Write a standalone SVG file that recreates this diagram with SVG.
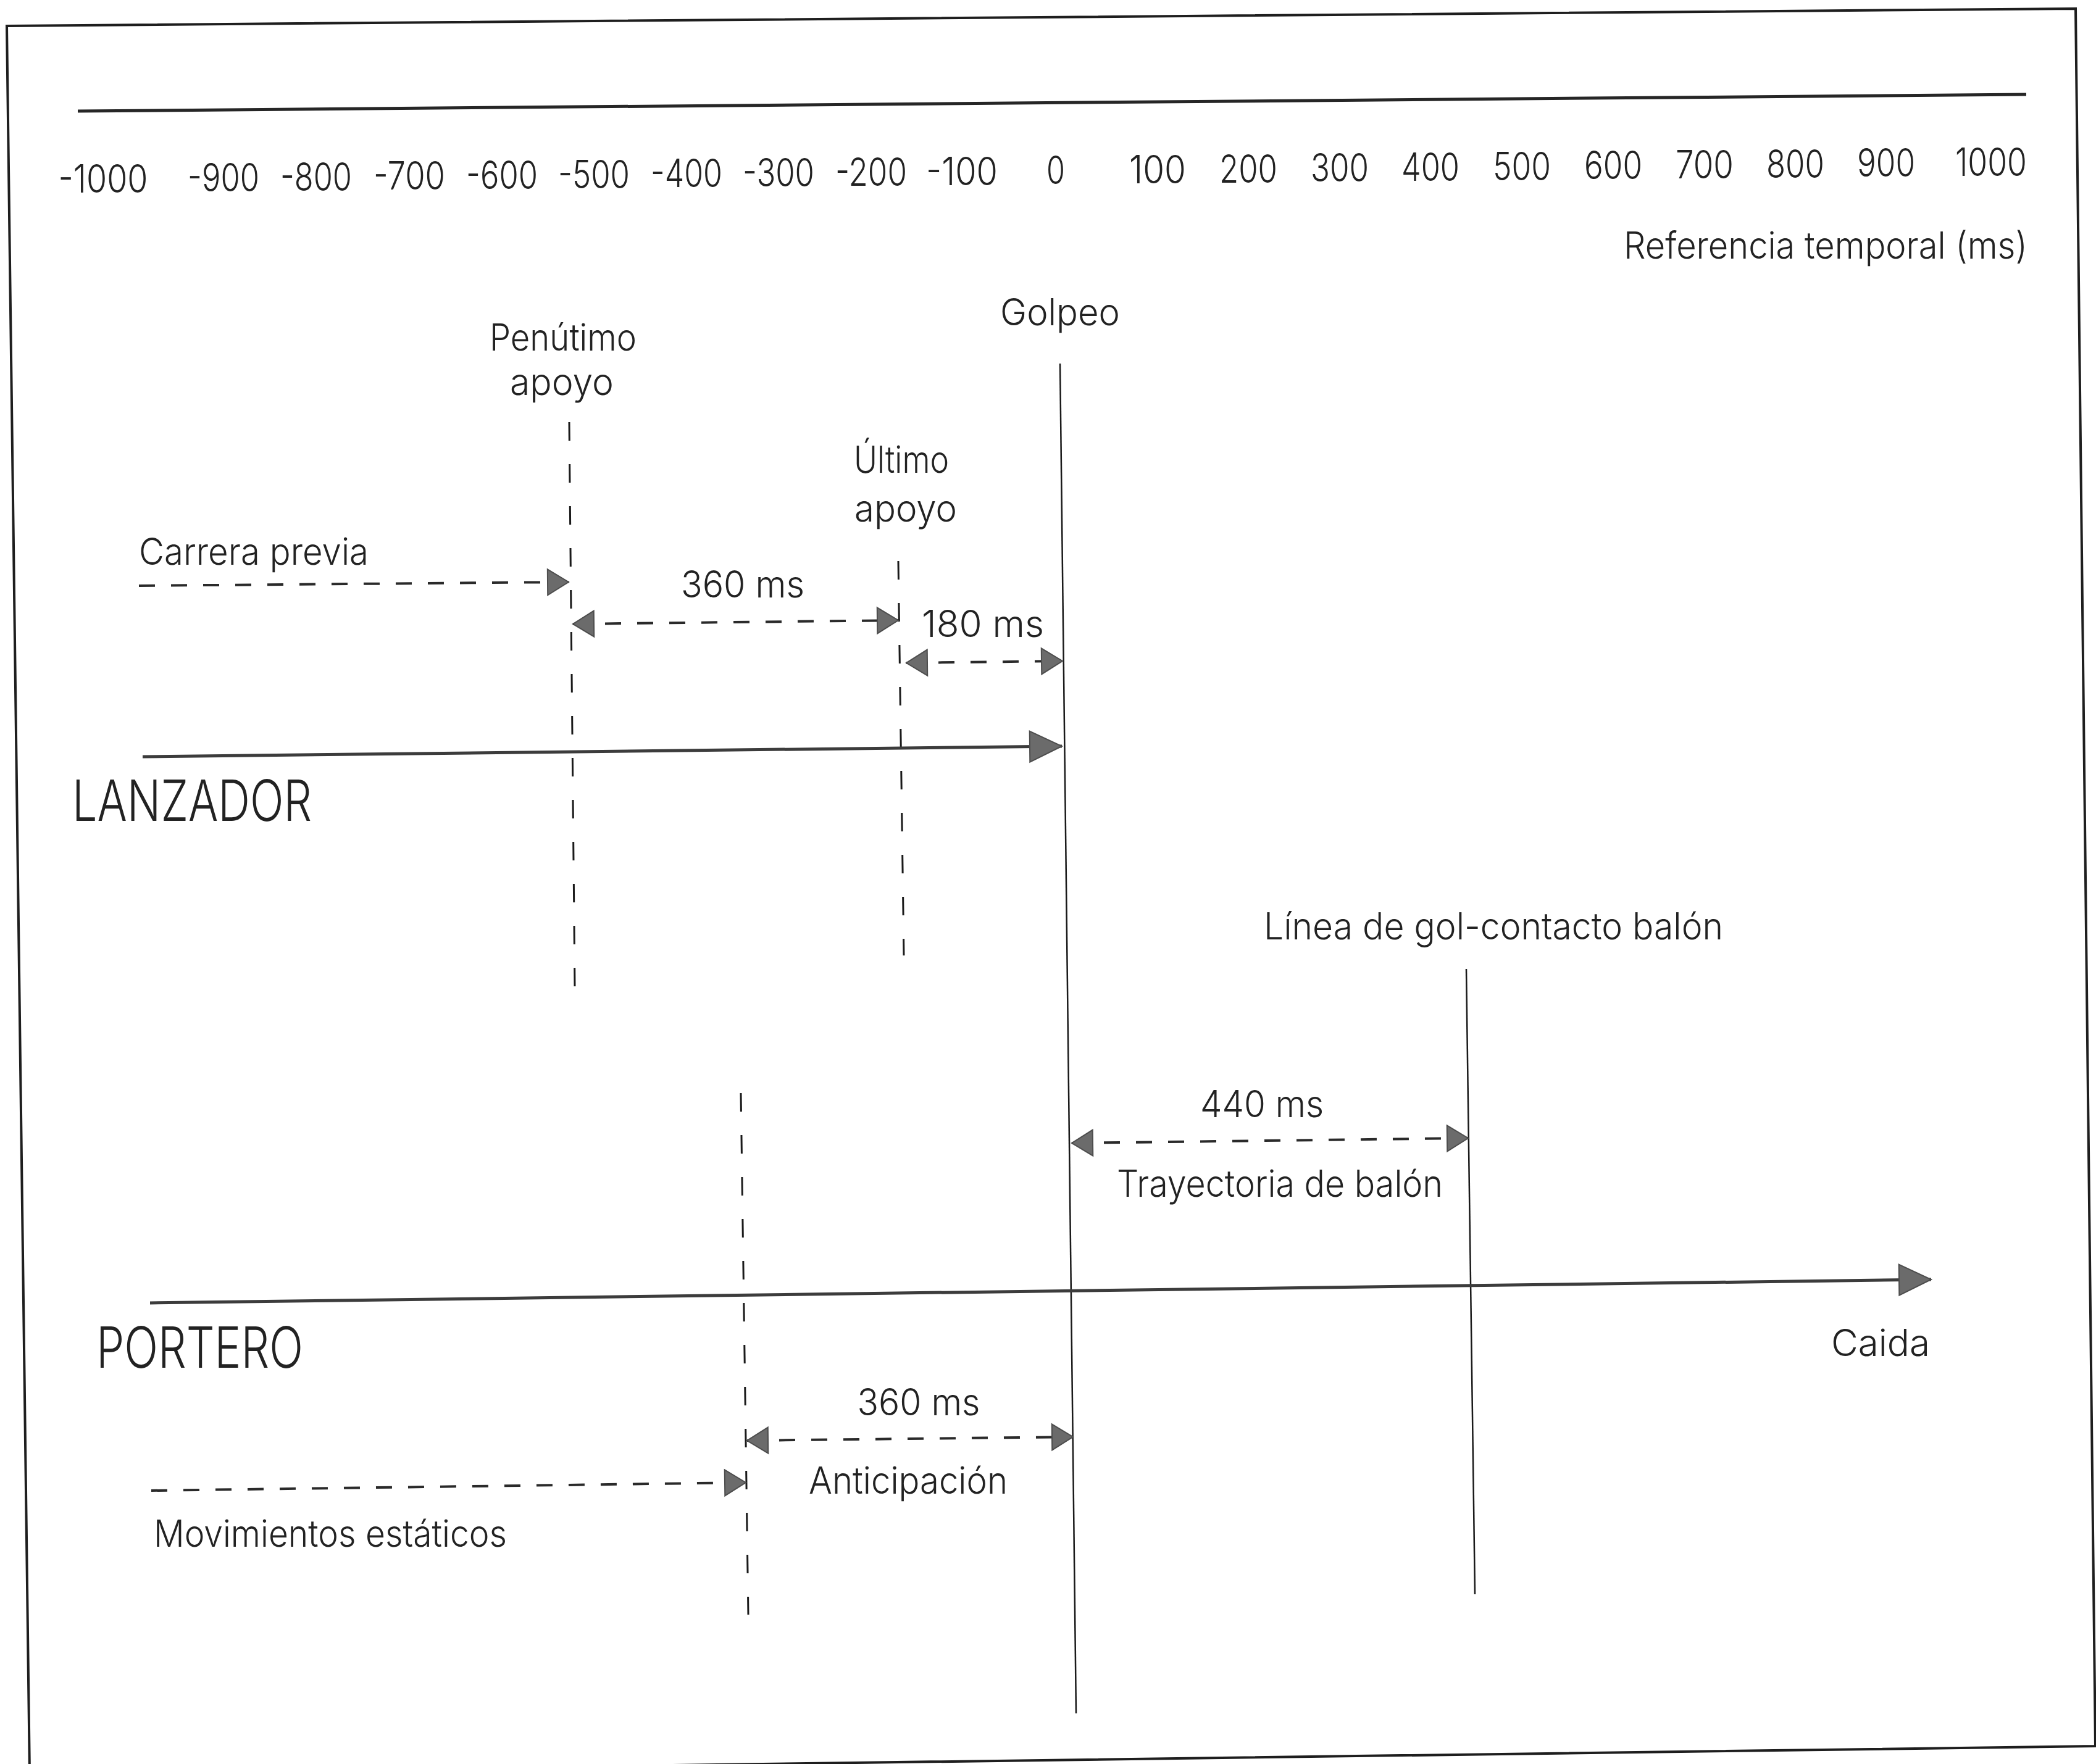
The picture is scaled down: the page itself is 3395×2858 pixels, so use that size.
<svg xmlns="http://www.w3.org/2000/svg" width="3395" height="2858" viewBox="0 0 3395 2858">
  <style>
    .frame { fill: none; stroke: #1e1e1e; stroke-width: 4; }
    .axis { stroke: #262626; stroke-width: 5; fill: none; }
    .track { stroke: #3c3c3c; stroke-width: 5; fill: none; }
    .event { stroke: #1a1a1a; stroke-width: 2.5; fill: none; }
    .phase { stroke: #1a1a1a; stroke-width: 3; stroke-dasharray: 30 38; fill: none; }
    .span { stroke: #2a2a2a; stroke-width: 4; stroke-dasharray: 26 26; fill: none; }
    .head { fill: #6b6b6b; stroke: #4d4d4d; stroke-width: 2; }
    text { font-family: Inter, "Liberation Sans", "DejaVu Sans", sans-serif; font-weight: 300; fill: #222; }
    .lbl { font-size: 60px; }
    .num { font-size: 63px; text-anchor: middle; }
    .mid { text-anchor: middle; }
    .actor { font-size: 92px; }
  </style>
  <defs>
    <marker id="tipS" viewBox="0 0 36 44" refX="35" refY="22" markerWidth="36" markerHeight="44" markerUnits="userSpaceOnUse" orient="auto-start-reverse" overflow="visible">
      <path class="head" d="M1,1 L35,22 L1,43 Z"/>
    </marker>
    <marker id="tipL" viewBox="0 0 54 52" refX="53" refY="26" markerWidth="54" markerHeight="52" markerUnits="userSpaceOnUse" orient="auto" overflow="visible">
      <path class="head" d="M1,1 L53,26 L1,51 Z"/>
    </marker>
  </defs>

  <rect width="3395" height="2858" fill="#ffffff"/>

  <!-- page frame -->
  <polygon class="frame" points="11,42 3362,14 3394,2829 48,2874"/>

  <!-- time axis with millisecond scale -->
  <g id="time-axis">
    <line class="axis" x1="126" y1="180" x2="3282" y2="153"/>
    <text class="num" x="167" y="312" textLength="145" lengthAdjust="spacingAndGlyphs">-1000</text>
    <text class="num" x="362" y="310" textLength="116" lengthAdjust="spacingAndGlyphs">-900</text>
    <text class="num" x="512" y="309" textLength="116" lengthAdjust="spacingAndGlyphs">-800</text>
    <text class="num" x="663" y="307" textLength="116" lengthAdjust="spacingAndGlyphs">-700</text>
    <text class="num" x="813" y="306" textLength="116" lengthAdjust="spacingAndGlyphs">-600</text>
    <text class="num" x="962" y="305" textLength="116" lengthAdjust="spacingAndGlyphs">-500</text>
    <text class="num" x="1112" y="303" textLength="116" lengthAdjust="spacingAndGlyphs">-400</text>
    <text class="num" x="1261" y="302" textLength="116" lengthAdjust="spacingAndGlyphs">-300</text>
    <text class="num" x="1411" y="301" textLength="116" lengthAdjust="spacingAndGlyphs">-200</text>
    <text class="num" x="1558" y="300" textLength="116" lengthAdjust="spacingAndGlyphs">-100</text>
    <text class="num" x="1710" y="298" textLength="30" lengthAdjust="spacingAndGlyphs">0</text>
    <text class="num" x="1875" y="297" textLength="92" lengthAdjust="spacingAndGlyphs">100</text>
    <text class="num" x="2022" y="296" textLength="94" lengthAdjust="spacingAndGlyphs">200</text>
    <text class="num" x="2170" y="294" textLength="94" lengthAdjust="spacingAndGlyphs">300</text>
    <text class="num" x="2317" y="293" textLength="94" lengthAdjust="spacingAndGlyphs">400</text>
    <text class="num" x="2465" y="292" textLength="94" lengthAdjust="spacingAndGlyphs">500</text>
    <text class="num" x="2613" y="290" textLength="94" lengthAdjust="spacingAndGlyphs">600</text>
    <text class="num" x="2761" y="289" textLength="94" lengthAdjust="spacingAndGlyphs">700</text>
    <text class="num" x="2908" y="288" textLength="94" lengthAdjust="spacingAndGlyphs">800</text>
    <text class="num" x="3055" y="286" textLength="94" lengthAdjust="spacingAndGlyphs">900</text>
    <text class="num" x="3225" y="285" textLength="116" lengthAdjust="spacingAndGlyphs">1000</text>
    <text class="lbl" x="2630" y="419" textLength="654" lengthAdjust="spacingAndGlyphs">Referencia temporal (ms)</text>
  </g>

  <!-- key instants -->
  <g id="penultimo-apoyo">
    <line class="phase" x1="922" y1="684" x2="931" y2="1598"/>
    <text class="lbl mid" x="912" y="568" textLength="238" lengthAdjust="spacingAndGlyphs">Penútimo</text>
    <text class="lbl mid" x="910" y="640" textLength="168" lengthAdjust="spacingAndGlyphs">apoyo</text>
  </g>

  <g id="ultimo-apoyo">
    <line class="phase" x1="1455" y1="909" x2="1464" y2="1548"/>
    <text class="lbl mid" x="1460" y="766" textLength="154" lengthAdjust="spacingAndGlyphs">Último</text>
    <text class="lbl mid" x="1467" y="845" textLength="166" lengthAdjust="spacingAndGlyphs">apoyo</text>
  </g>

  <g id="golpeo">
    <line class="event" x1="1717" y1="589" x2="1743" y2="2776"/>
    <text class="lbl mid" x="1717" y="527" textLength="194" lengthAdjust="spacingAndGlyphs">Golpeo</text>
  </g>

  <g id="linea-gol">
    <line class="event" x1="2375" y1="1570" x2="2389" y2="2583"/>
    <text class="lbl" x="2047" y="1522" textLength="744" lengthAdjust="spacingAndGlyphs">Línea de gol-contacto balón</text>
  </g>

  <g id="anticipacion-inicio">
    <line class="phase" x1="1200" y1="1771" x2="1212" y2="2616"/>
  </g>

  <!-- player tracks -->
  <g id="lanzador">
    <text class="actor" x="117" y="1330" textLength="388" lengthAdjust="spacingAndGlyphs">LANZADOR</text>
  </g>

  <g id="portero">
    <text class="actor" x="156" y="2216" textLength="335" lengthAdjust="spacingAndGlyphs">PORTERO</text>
    <text class="lbl" x="2966" y="2197" textLength="160" lengthAdjust="spacingAndGlyphs">Caida</text>
  </g>

  <!-- interval labels -->
  <g id="interval-labels">
    <text class="lbl" x="225" y="915" textLength="372" lengthAdjust="spacingAndGlyphs">Carrera previa</text>
    <text class="lbl mid" x="1203" y="968" textLength="200" lengthAdjust="spacingAndGlyphs">360 ms</text>
    <text class="lbl mid" x="1592" y="1032" textLength="198" lengthAdjust="spacingAndGlyphs">180 ms</text>
    <text class="lbl mid" x="2044" y="1810" textLength="200" lengthAdjust="spacingAndGlyphs">440 ms</text>
    <text class="lbl" x="1809" y="1939" textLength="528" lengthAdjust="spacingAndGlyphs">Trayectoria de balón</text>
    <text class="lbl mid" x="1488" y="2293" textLength="199" lengthAdjust="spacingAndGlyphs">360 ms</text>
    <text class="lbl" x="1310" y="2420" textLength="322" lengthAdjust="spacingAndGlyphs">Anticipación</text>
    <text class="lbl" x="249" y="2506" textLength="572" lengthAdjust="spacingAndGlyphs">Movimientos estáticos</text>
  </g>

  <!-- connectors -->
  <g id="connectors">
    <line class="track" x1="231" y1="1226" x2="1720" y2="1209" marker-end="url(#tipL)"/>
    <line class="track" x1="243" y1="2111" x2="3128" y2="2073" marker-end="url(#tipL)"/>
    <line class="span" x1="225" y1="949" x2="921" y2="943" marker-end="url(#tipS)"/>
    <line class="span" x1="928" y1="1011" x2="1455" y2="1005" marker-start="url(#tipS)" marker-end="url(#tipS)"/>
    <line class="span" x1="1468" y1="1074" x2="1721" y2="1071" marker-start="url(#tipS)" marker-end="url(#tipS)"/>
    <line class="span" x1="1736" y1="1852" x2="2378" y2="1844" marker-start="url(#tipS)" marker-end="url(#tipS)"/>
    <line class="span" x1="1210" y1="2334" x2="1738" y2="2328" marker-start="url(#tipS)" marker-end="url(#tipS)"/>
    <line class="span" x1="245" y1="2415" x2="1208" y2="2402" marker-end="url(#tipS)"/>
  </g>
</svg>
